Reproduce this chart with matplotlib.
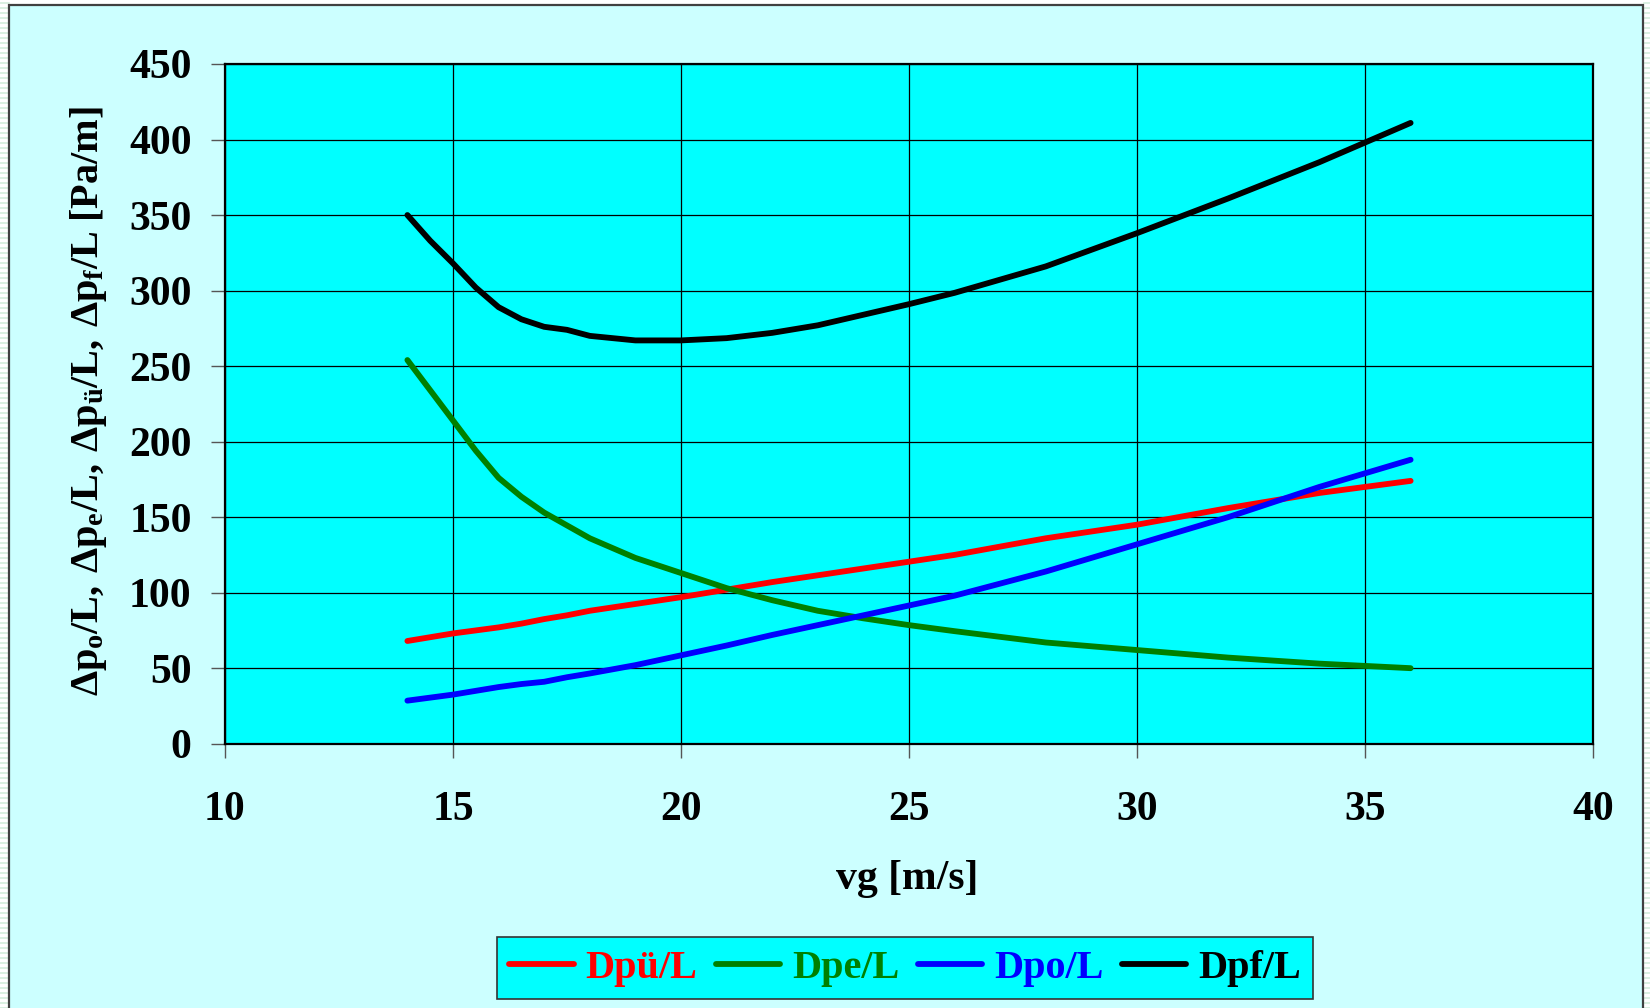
import matplotlib
matplotlib.use("Agg")
import matplotlib.pyplot as plt
from matplotlib.patches import Rectangle
from matplotlib.lines import Line2D

# data: gas velocity vs. pressure loss per metre
vg = [14, 14.5, 15, 15.5, 16, 16.5, 17, 17.5, 18, 19, 20, 21, 22, 23, 24, 25, 26, 28, 30, 32, 34, 36]

dpue_L = [68, 70.5, 73, 75, 77, 79.5, 82.5, 85, 88, 92.5, 97, 102, 107, 111.5, 116, 120.5, 125, 136, 145, 156, 166, 174]
dpe_L = [254, 234, 214, 194, 176, 163.5, 153, 144.5, 136, 123, 113, 103, 95, 88, 83, 78.5, 74.5, 67, 62, 57, 53, 50]
dpo_L = [28.5, 30.5, 32.5, 35, 37.5, 39.5, 41, 44, 46.5, 52, 58.5, 65, 72, 78.5, 85, 91.5, 98, 114, 132, 150, 170, 188]
dpf_L = [350, 333, 318, 302, 289, 281, 276, 274, 270, 267, 267, 268.5, 272, 277, 284, 291, 298.5, 316, 338, 361, 385, 411]

series = [
    ("Dpü/L", dpue_L, "#FF0000"),
    ("Dpe/L", dpe_L, "#008000"),
    ("Dpo/L", dpo_L, "#0000FF"),
    ("Dpf/L", dpf_L, "#000000"),
]

W, H = 1650, 1008

plt.rcParams.update({
    "font.family": "Liberation Serif",
    "font.weight": "bold",
    "mathtext.fontset": "custom",
    "mathtext.rm": "Liberation Serif:bold",
    "mathtext.it": "Liberation Serif:bold",
    "mathtext.bf": "Liberation Serif:bold",
})

fig = plt.figure(figsize=(W / 100, H / 100), dpi=100)
fig.patch.set_facecolor("white")

# striped margins left and right of the framed area
for yp in range(0, H, 5):
    for x0, x1 in ((0, 9), (1644, W)):
        fig.add_artist(Line2D([x0 / W, x1 / W], [yp / H, yp / H],
                              transform=fig.transFigure, color="#D3EEDC",
                              lw=1.2, zorder=-2))

fig.add_artist(Rectangle((9 / W, -0.01), (1643 - 9) / W, 1.01 - 5 / H,
                         transform=fig.transFigure, facecolor="#CCFFFF",
                         edgecolor="#404040", lw=1.6, zorder=-1))

ax = fig.add_axes([225 / W, 1 - 743.7 / H, (1593 - 225) / W, (743.7 - 64) / H])
ax.set_facecolor("#00FFFF")

for label, vals, color in series:
    ax.plot(vg, vals, color=color, lw=4.2, label=label,
            solid_capstyle="round", solid_joinstyle="round", zorder=3)

ax.set_xlim(10, 40)
ax.set_ylim(0, 450)
ax.set_xticks(range(10, 41, 5))
ax.set_yticks(range(0, 451, 50))
ax.grid(True, color="black", lw=0.9, zorder=1)
ax.set_axisbelow(True)
for sp in ax.spines.values():
    sp.set_linewidth(1.6)
    sp.set_color("black")

ax.tick_params(axis="both", direction="out", length=10, width=1, color="#555555",
               labelsize=30)
ax.tick_params(axis="x", pad=24)
ax.tick_params(axis="y", pad=14)
for t in ax.get_xticklabels() + ax.get_yticklabels():
    t.set_fontweight("bold")

fig.text(907 / W, 1 - 879 / H, "vg [m/s]", ha="center", va="center",
         fontsize=30, fontweight="bold")

fig.text(89 / W, 1 - 401 / H,
         r"$\Delta p_{o}/L,\,\Delta p_{e}/L,\,\Delta p_{ü}/L,\,\Delta p_{f}/L\;[Pa/m]$",
         rotation=90, ha="center", va="center", fontsize=29)

leg = fig.legend(loc="center", bbox_to_anchor=(905 / W, 1 - 968 / H), ncol=4,
                 frameon=True, fancybox=False, fontsize=29,
                 handlelength=1.6, handletextpad=0.3, columnspacing=0.45,
                 borderpad=0.3, labelcolor="linecolor")
leg.get_frame().set_facecolor("#00FFFF")
leg.get_frame().set_edgecolor("#333333")
leg.get_frame().set_linewidth(1.2)
leg.get_frame().set_alpha(1)
for t in leg.get_texts():
    t.set_fontweight("bold")

fig.savefig("out.png", dpi=100)
